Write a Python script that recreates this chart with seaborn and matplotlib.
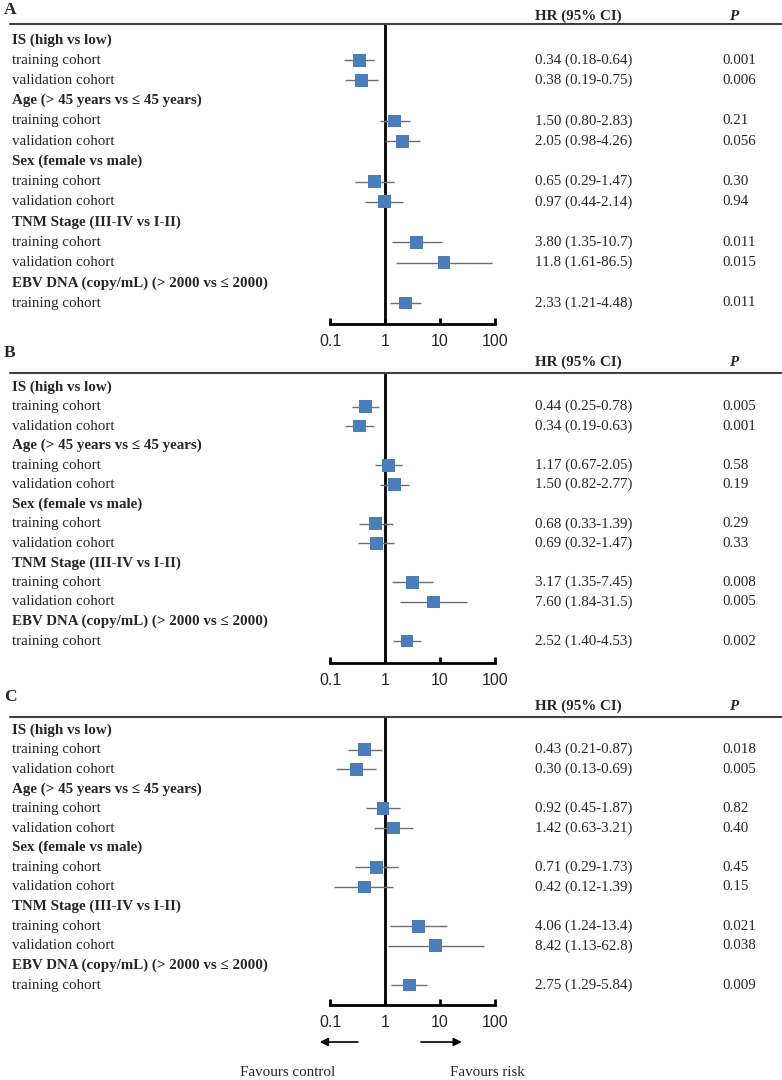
import matplotlib
matplotlib.use("Agg")
import matplotlib.pyplot as plt
import seaborn as sns
import numpy as np

sns.set_theme(style="white")
plt.rcParams['font.family'] = ['Liberation Serif', 'DejaVu Serif']

panel_letters = ["A", "B", "C"]
headers = ["IS (high vs low)", "Age (> 45 years vs \u2264 45 years)", "Sex (female vs male)",
           "TNM Stage (III-IV vs I-II)", "EBV DNA (copy/mL) (> 2000 vs \u2264 2000)"]
header_sizes = [2, 2, 2, 2, 1]
cohorts = ["training cohort", "validation cohort"]

hr_A = [0.34, 0.38, 1.50, 2.05, 0.65, 0.97, 3.80, 11.8, 2.33]
lo_A = [0.18, 0.19, 0.80, 0.98, 0.29, 0.44, 1.35, 1.61, 1.21]
hi_A = [0.64, 0.75, 2.83, 4.26, 1.47, 2.14, 10.7, 86.5, 4.48]
txt_A = ["0.34 (0.18-0.64)", "0.38 (0.19-0.75)", "1.50 (0.80-2.83)", "2.05 (0.98-4.26)",
         "0.65 (0.29-1.47)", "0.97 (0.44-2.14)", "3.80 (1.35-10.7)", "11.8 (1.61-86.5)",
         "2.33 (1.21-4.48)"]
p_A = ["0.001", "0.006", "0.21", "0.056", "0.30", "0.94", "0.011", "0.015", "0.011"]

hr_B = [0.44, 0.34, 1.17, 1.50, 0.68, 0.69, 3.17, 7.60, 2.52]
lo_B = [0.25, 0.19, 0.67, 0.82, 0.33, 0.32, 1.35, 1.84, 1.40]
hi_B = [0.78, 0.63, 2.05, 2.77, 1.39, 1.47, 7.45, 31.5, 4.53]
txt_B = ["0.44 (0.25-0.78)", "0.34 (0.19-0.63)", "1.17 (0.67-2.05)", "1.50 (0.82-2.77)",
         "0.68 (0.33-1.39)", "0.69 (0.32-1.47)", "3.17 (1.35-7.45)", "7.60 (1.84-31.5)",
         "2.52 (1.40-4.53)"]
p_B = ["0.005", "0.001", "0.58", "0.19", "0.29", "0.33", "0.008", "0.005", "0.002"]

hr_C = [0.43, 0.30, 0.92, 1.42, 0.71, 0.42, 4.06, 8.42, 2.75]
lo_C = [0.21, 0.13, 0.45, 0.63, 0.29, 0.12, 1.24, 1.13, 1.29]
hi_C = [0.87, 0.69, 1.87, 3.21, 1.73, 1.39, 13.4, 62.8, 5.84]
txt_C = ["0.43 (0.21-0.87)", "0.30 (0.13-0.69)", "0.92 (0.45-1.87)", "1.42 (0.63-3.21)",
         "0.71 (0.29-1.73)", "0.42 (0.12-1.39)", "4.06 (1.24-13.4)", "8.42 (1.13-62.8)",
         "2.75 (1.29-5.84)"]
p_C = ["0.018", "0.005", "0.82", "0.40", "0.45", "0.15", "0.021", "0.038", "0.009"]

tick_vals = [0.1, 1, 10, 100]
tick_labels = ["0.1", "1", "10", "100"]

panels = [
    (hr_A, lo_A, hi_A, txt_A, p_A),
    (hr_B, lo_B, hi_B, txt_B, p_B),
    (hr_C, lo_C, hi_C, txt_C, p_C),
]

# layout (pixel positions)
W, H = 782, 1080
line_y = [24, 373, 717]
first_y = [40, 387, 730]
last_y = [303, 641, 985]
axis_y = [324, 663, 1005]
letter_y = [10, 353, 697]
hdr_y = [16, 362, 706]
px_per_dec = 55.0
x01 = 330.0
xlo = 10 ** (-1 - x01 / px_per_dec)
xhi = 10 ** (2 + (W - (x01 + 3 * px_per_dec)) / px_per_dec)

SQ = "#4A7EBB"
FS = 10.8
TX = 12 / W

fig = plt.figure(figsize=(W / 100, H / 100), dpi=100)

for k, (hr, lo, hi, txt, pv) in enumerate(panels):
    ax = fig.add_axes([0, 1 - axis_y[k] / H, 1, (axis_y[k] - line_y[k]) / H])
    ax.set_xscale("log")
    ax.set_xlim(xlo, xhi)
    ax.set_ylim(axis_y[k], line_y[k])
    rows = np.linspace(first_y[k], last_y[k], 14)

    ridx = 0
    hdr_rows, data_rows, data_labels = [], [], []
    for h, n in zip(headers, header_sizes):
        hdr_rows.append((rows[ridx], h))
        ridx += 1
        for j in range(n):
            data_rows.append(rows[ridx])
            data_labels.append(cohorts[j])
            ridx += 1

    tr = ax.get_yaxis_transform()
    for y, h in hdr_rows:
        ax.text(TX, y, h, transform=tr, fontsize=FS, fontweight="bold",
                va="center", ha="left", clip_on=False)
    for y, lab, t, p in zip(data_rows, data_labels, txt, pv):
        ax.text(TX, y, lab, transform=tr, fontsize=FS, va="center", ha="left")
        ax.text(535 / W, y, t, transform=tr, fontsize=FS, va="center", ha="left")
        ax.text(722 / W, y, p, transform=tr, fontsize=FS, va="center", ha="left")

    ax.hlines(data_rows, lo, hi, color="#6e6e6e", lw=1.0, zorder=2)
    sns.scatterplot(x=hr, y=data_rows, marker="s", s=85, color=SQ,
                    edgecolor="none", ax=ax, zorder=3, legend=False)
    ax.axvline(1, color="black", lw=2, zorder=1)
    ax.axhline(line_y[k], xmin=10 / W, xmax=1, color="#404040", lw=1.5, clip_on=False)

    ax.text(4 / W, letter_y[k], panel_letters[k], transform=tr, fontsize=12.5,
            fontweight="bold", va="center", ha="left", clip_on=False)
    ax.text(535 / W, hdr_y[k], "HR (95% CI)", transform=tr, fontsize=FS,
            fontweight="bold", va="center", ha="left", clip_on=False)
    ax.text(729 / W, hdr_y[k], "P", transform=tr, fontsize=FS,
            fontweight="bold", fontstyle="italic", va="center", ha="left", clip_on=False)

    for s in ["left", "right", "top"]:
        ax.spines[s].set_visible(False)
    ax.spines["bottom"].set_bounds(0.1, 100)
    ax.spines["bottom"].set_color("black")
    ax.spines["bottom"].set_linewidth(2)
    ax.set_yticks([])
    ax.set_xticks(tick_vals)
    ax.set_xticklabels(tick_labels, family=["Liberation Sans", "DejaVu Sans"], fontsize=11.5)
    ax.xaxis.set_minor_locator(matplotlib.ticker.NullLocator())
    ax.tick_params(axis="x", direction="in", length=4, width=2, color="black", pad=7,
                   bottom=True)
    ax.set_xlabel("")
    ax.set_ylabel("")
    ax.patch.set_alpha(0)

    if k == 2:
        ax.annotate("", xy=(0.058, 1042), xytext=(0.36, 1042), xycoords="data",
                    arrowprops=dict(arrowstyle="-|>", color="black", lw=1.2,
                                    mutation_scale=12), annotation_clip=False)
        ax.annotate("", xy=(28, 1042), xytext=(4, 1042), xycoords="data",
                    arrowprops=dict(arrowstyle="-|>", color="black", lw=1.2,
                                    mutation_scale=12), annotation_clip=False)
        ax.text(0.017, 1072, "Favours control", fontsize=FS, va="center", ha="center",
                clip_on=False)
        ax.text(15.5, 1072, "Favours risk", fontsize=FS, va="center", ha="left",
                clip_on=False)

fig.savefig("out.png", dpi=100)
